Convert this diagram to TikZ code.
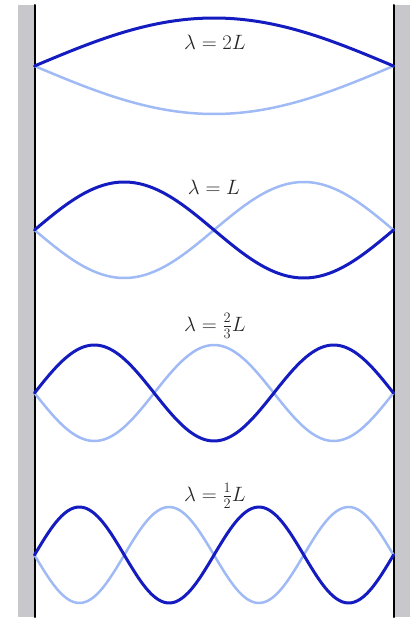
\documentclass[tikz,border=0pt]{standalone}
\usepackage{tikz}

\definecolor{wavedark}{RGB}{20,28,192}
\definecolor{wavelight}{RGB}{160,186,246}
\definecolor{wallgray}{RGB}{200,200,204}

\tikzset{
  wall/.style={fill=wallgray, draw=none},
  wallline/.style={line width=2pt, black},
  wavenow/.style={line width=3pt, wavedark},
  wavehalf/.style={line width=2.5pt, wavelight},
  lamlabel/.style={inner sep=1pt, text=black!85, font=\fontsize{21}{25}\selectfont}
}

\begin{document}
\begin{tikzpicture}[x=1pt, y=-1pt, line cap=round, line join=round]

  %% ════ 两侧墙体 ════
  \fill[wall] (18,5) rectangle (34,617);
  \fill[wall] (394,5) rectangle (410,617);
  \coordinate (lt) at (34.5,5);
  \coordinate (lb) at (34.5,617);
  \coordinate (rt) at (393.5,5);
  \coordinate (rb) at (393.5,617);
  \draw[wallline] (lt) -- (lb);
  \draw[wallline] (rt) -- (rb);

  %% ════ 驻波：n 个半波长，浅色在下，深色在上 ════
  \foreach \n/\yc in {1/66, 2/230, 3/393, 4/555} {
    \draw[wavehalf] plot[domain=34.5:393.5, samples=120, smooth]
      (\x, {\yc + 48*sin((\x-34.5)/359*180*\n)});
    \draw[wavenow] plot[domain=34.5:393.5, samples=120, smooth]
      (\x, {\yc - 48*sin((\x-34.5)/359*180*\n)});
  }

  %% ════ 标签 ════
  \node[lamlabel] (lam1) at (215,42)  {$\lambda = 2L$};
  \node[lamlabel] (lam2) at (214,187) {$\lambda = L$};
  \node[lamlabel] (lam3) at (215,326) {$\lambda = {\textstyle\frac{2}{3}}L$};
  \node[lamlabel] (lam4) at (215,496) {$\lambda = {\textstyle\frac{1}{2}}L$};

  % 钉死画布
  \pgfresetboundingbox
  \path[use as bounding box] (0,0) rectangle (416,621);
\end{tikzpicture}
\end{document}
